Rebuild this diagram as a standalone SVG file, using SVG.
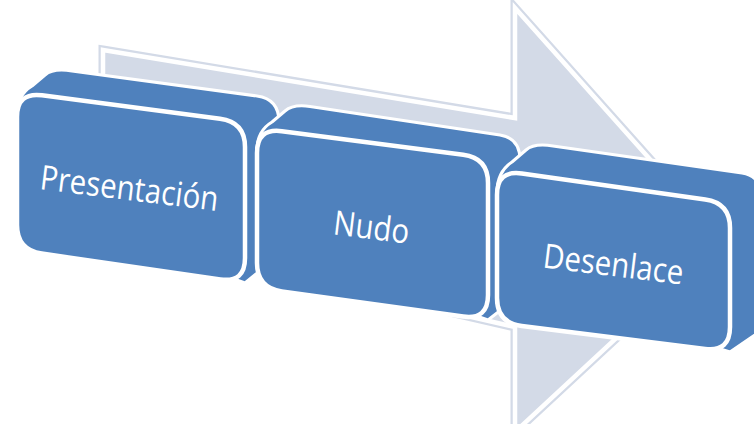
<svg xmlns="http://www.w3.org/2000/svg" width="754" height="424" viewBox="0 0 754 424">
<style>
.bg{fill:#ffffff}
.arrow-out{fill:#D3DAE7;stroke:#D3DAE7;stroke-width:9;stroke-linejoin:miter}
.arrow-line{fill:none;stroke:#ffffff;stroke-width:4.5;stroke-linejoin:miter}
.block{fill:#4F81BD;stroke:#ffffff;stroke-width:3;stroke-linejoin:round}
.face{fill:#4F81BD;stroke:#ffffff;stroke-width:4.5;stroke-linejoin:round}
.lbl{font-family:"Open Sans","Noto Sans","Liberation Sans",sans-serif;font-size:29.5px;fill:#ffffff;text-anchor:middle}
</style>
<rect class="bg" x="0" y="0" width="754" height="424"/>
<g id="process-arrow">
<path class="arrow-out" d="M 103,50 L 515,118 L 515,8 L 722,240 L 515,432 L 515,327 L 103,232 Z"/>
<path class="arrow-line" d="M 103,50 L 515,118 L 515,8 L 722,240 L 515,432 L 515,327 L 103,232 Z"/>
</g>
<g id="node-presentacion">
<path class="block" d="M 17,200 L 17,115 Q 17,95 32,86 L 45,75 Q 53,68 72,71 L 257,96 Q 279,99 279,122 L 279,255 L 245,283 Z"/>
<path class="face" d="M 17,117 Q 17,92 42,95.3 L 220,118.7 Q 245,122 245,147 L 245,258 Q 245,283 220.3,279.4 L 41.7,253.6 Q 17,250 17,225 Z"/>
<text class="lbl" transform="translate(128 200) rotate(7) scale(1 1.15)">Presentación</text>
</g>
<g id="node-nudo">
<path class="block" d="M 257,240 L 257,150 Q 257,131 272,122 L 285,111 Q 293,104 310,106.5 L 500,135 Q 520,138 520,160 L 520,295 L 488,320 Z"/>
<path class="face" d="M 257,153 Q 257,128 281.8,131.2 L 463.2,154.8 Q 488,158 488,183 L 488,295 Q 488,320 463.2,316.6 L 281.8,291.4 Q 257,288 257,263 Z"/>
<text class="lbl" transform="translate(370 239) rotate(7) scale(1 1.15)">Nudo</text>
</g>
<g id="node-desenlace">
<path class="block" d="M 497,280 L 497,192 Q 497,172 512,162 L 526,150 Q 534,143 553,146 L 742,173 Q 762,176 762,199 L 762,330 L 730,352 Z"/>
<path class="face" d="M 497,195 Q 497,170 521.8,173.5 L 705.2,199.5 Q 730,203 730,228 L 730,327 Q 730,352 705.2,348.9 L 521.8,326.1 Q 497,323 497,298 Z"/>
<text class="lbl" transform="translate(612 276) rotate(7) scale(1 1.15)">Desenlace</text>
</g>
</svg>
